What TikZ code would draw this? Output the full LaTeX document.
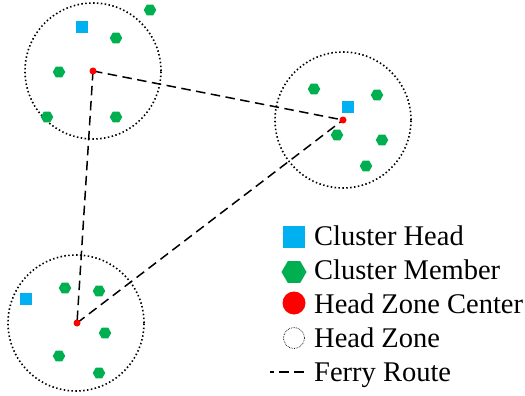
\documentclass[tikz,border=0pt]{standalone}
\usepackage{fontspec}
\setmainfont{Liberation Serif}
\usetikzlibrary{shapes.geometric}
\definecolor{chblue}{HTML}{00B0F0}
\definecolor{cmgreen}{HTML}{00B050}
\begin{document}
\begin{tikzpicture}[
  x=1pt, y=-1pt,
  head/.style={rectangle, fill=chblue, minimum size=12pt, inner sep=0pt},
  member/.style={regular polygon, regular polygon sides=6, fill=cmgreen, minimum size=12.5pt, inner sep=0pt},
  center/.style={circle, fill=red, minimum size=7pt, inner sep=0pt},
  zone/.style={circle, draw, line width=1.6pt, dash pattern=on 1.5pt off 2.4pt, minimum size=136pt, inner sep=0pt},
  ferry/.style={draw, line width=1.5pt, dash pattern=on 9.5pt off 5.5pt},
  legtext/.style={anchor=base west, inner sep=0pt, font=\fontsize{28.5}{34}\selectfont}
]
  \useasboundingbox (0,0) rectangle (525,396);

  % head zones
  \node[zone] (z1) at (93,71) {};
  \node[zone] (z2) at (343,120) {};
  \node[zone] (z3) at (76,323) {};

  % ferry route
  \coordinate (c1) at (93,71);
  \coordinate (c2) at (343,120);
  \coordinate (c3) at (77,323);
  \draw[ferry] (c1) -- (c2);
  \draw[ferry] (c1) -- (c3);
  \draw[ferry] (c3) -- (c2);

  \node[center] (hz1) at (c1) {};
  \node[center] (hz2) at (c2) {};
  \node[center] (hz3) at (c3) {};

  % cluster 1
  \node[head] (h1) at (82,27) {};
  \node[member] (m11) at (150,10) {};
  \node[member] (m12) at (116,38) {};
  \node[member] (m13) at (59,72) {};
  \node[member] (m14) at (47,117) {};
  \node[member] (m15) at (116,117) {};

  % cluster 2
  \node[head] (h2) at (348,107) {};
  \node[member] (m21) at (314,89) {};
  \node[member] (m22) at (377,95) {};
  \node[member] (m23) at (337,135) {};
  \node[member] (m24) at (382,140) {};
  \node[member] (m25) at (366,166) {};

  % cluster 3
  \node[head] (h3) at (26,299) {};
  \node[member] (m31) at (65,288) {};
  \node[member] (m32) at (99,291) {};
  \node[member] (m33) at (105,333) {};
  \node[member] (m34) at (59,356) {};
  \node[member] (m35) at (99,373) {};

  % legend
  \node[head, minimum size=22pt] (lh) at (294,237) {};
  \node[member, minimum size=25pt] (lm) at (294,272) {};
  \node[center, minimum size=23pt] (lc) at (294,303) {};
  \node[circle, draw, line width=0.7pt, dash pattern=on 0.7pt off 1pt, minimum size=21pt, inner sep=0pt] (lz) at (294,338) {};
  \coordinate (lf1) at (270,372);
  \coordinate (lf2) at (304,372);
  \draw[ferry, line width=1.2pt, dash phase=6pt] (lf1) -- (lf2);

  \node[legtext] (t1) at (314,245) {Cluster Head};
  \node[legtext] (t2) at (314,279) {Cluster Member};
  \node[legtext] (t3) at (314,313) {Head Zone Center};
  \node[legtext] (t4) at (314,347) {Head Zone};
  \node[legtext] (t5) at (314,381) {Ferry Route};
\end{tikzpicture}
\end{document}
